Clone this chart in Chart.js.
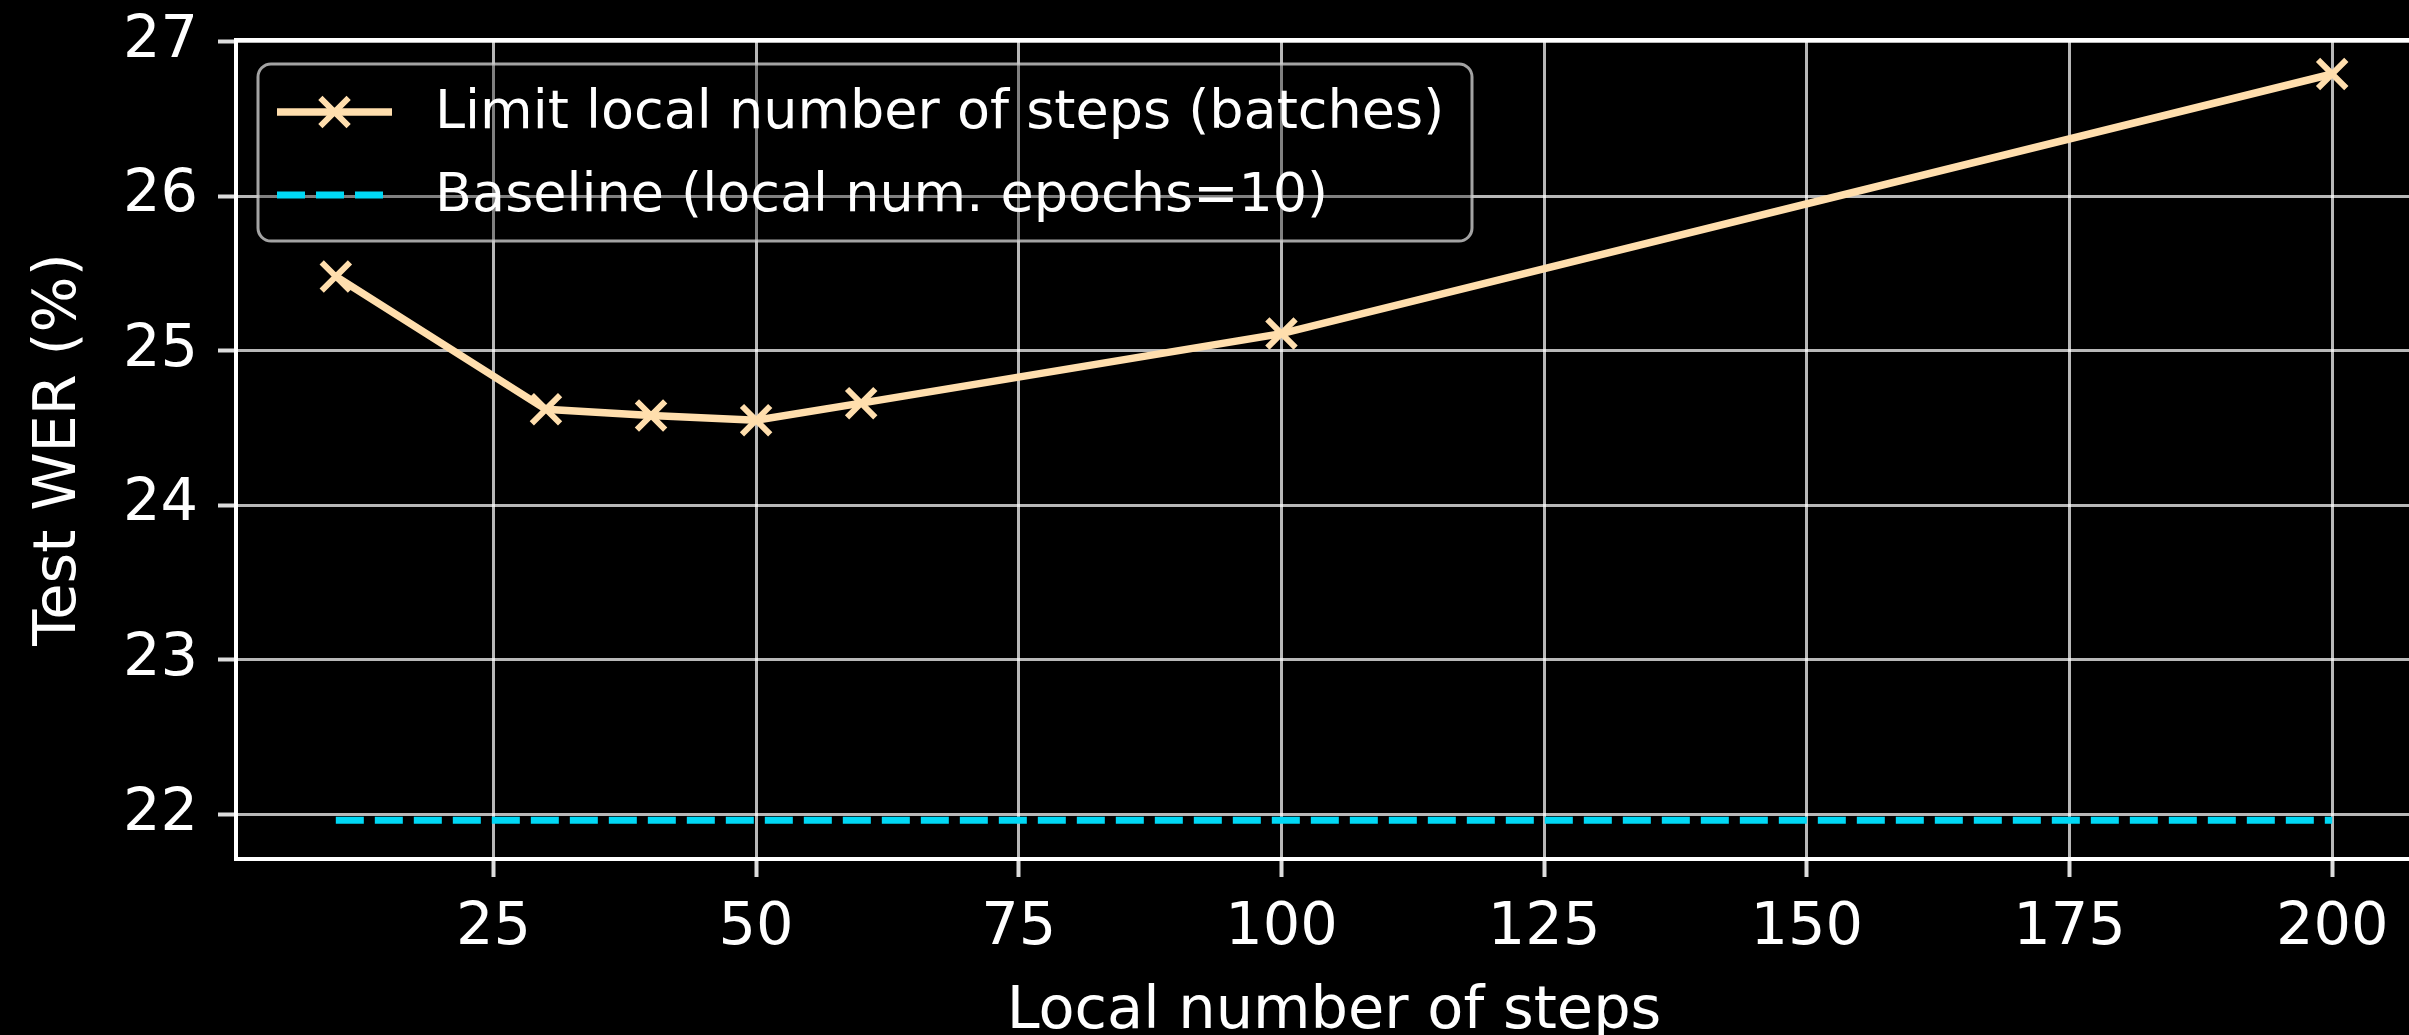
<!DOCTYPE html>
<html>
<head>
<meta charset="utf-8">
<script src="https://cdn.jsdelivr.net/npm/chart.js@4.4.1/dist/chart.umd.min.js"></script>
<style>
  html, body { margin: 0; padding: 0; background: #000; overflow: hidden; }
  #wrap { position: relative; width: 2458px; height: 1035px; }
  #c { display: block; }
</style>
</head>
<body>
<div id="wrap"><canvas id="c" width="2458" height="1035"></canvas></div>
<script>
// Test WER against the local number of steps, with the 10-epoch baseline
const steps = [10, 30, 40, 50, 60, 100, 200];
const testWER = [25.48, 24.62, 24.58, 24.55, 24.66, 25.11, 26.79];
const baselineSteps = [10, 200];
const baselineWER = 21.96;
const xTicks = [25, 50, 75, 100, 125, 150, 175, 200];
const yTicks = [22, 23, 24, 25, 26, 27];
const seriesLabels = ['Limit local number of steps (batches)', 'Baseline (local num. epochs=10)'];
const axisTitles = { x: 'Local number of steps', y: 'Test WER (%)' };

const FONT = "'DejaVu Sans', 'Liberation Sans', sans-serif";
const STEP_COLOR = '#ffdead';
const BASE_COLOR = '#00d8f5';
const GRID_COLOR = 'rgba(255,255,255,0.72)';

Chart.defaults.font.family = FONT;

// Box-style legend in the upper left, plus the top/right frame lines
const legendBox = { left: 258, top: 64, right: 1472, bottom: 241, radius: 13,
                    rows: [112, 195], handleFrom: 277, handleTo: 392, textX: 435, fontSize: 54 };

function drawX(ctx, x, y, r, w, color) {
  const d = r * Math.SQRT1_2;
  ctx.save();
  ctx.strokeStyle = color;
  ctx.lineWidth = w;
  ctx.setLineDash([]);
  ctx.beginPath();
  ctx.moveTo(x - d, y - d); ctx.lineTo(x + d, y + d);
  ctx.moveTo(x - d, y + d); ctx.lineTo(x + d, y - d);
  ctx.stroke();
  ctx.restore();
}

const framePlugin = {
  id: 'frameAndLegend',
  afterDatasetsDraw(chart) {
    const { ctx, chartArea: a } = chart;
    ctx.save();
    ctx.strokeStyle = '#ffffff';
    ctx.lineWidth = 4;
    ctx.beginPath();
    ctx.moveTo(a.left - 2, a.top);
    ctx.lineTo(a.right, a.top);
    ctx.lineTo(a.right, a.bottom);
    ctx.stroke();
    ctx.restore();
  },
  afterDraw(chart) {
    const { ctx } = chart;
    const L = legendBox;
    ctx.save();
    ctx.beginPath();
    ctx.roundRect(L.left, L.top, L.right - L.left, L.bottom - L.top, L.radius);
    ctx.fillStyle = 'rgba(0,0,0,0.3)';
    ctx.fill();
    ctx.strokeStyle = 'rgba(204,204,204,0.8)';
    ctx.lineWidth = 3;
    ctx.stroke();

    chart.data.datasets.forEach((ds, i) => {
      const y = L.rows[i];
      ctx.save();
      ctx.strokeStyle = ds.borderColor;
      ctx.lineWidth = ds.borderWidth;
      ctx.lineCap = 'butt';
      ctx.setLineDash(ds.borderDash || []);
      ctx.beginPath();
      ctx.moveTo(L.handleFrom, y);
      ctx.lineTo(L.handleTo, y);
      ctx.stroke();
      ctx.restore();
      if (ds.pointRadius > 0) {
        drawX(ctx, (L.handleFrom + L.handleTo) / 2, y, ds.pointRadius, ds.pointBorderWidth, ds.pointBorderColor);
      }
      ctx.fillStyle = '#ffffff';
      ctx.font = L.fontSize + 'px ' + FONT;
      ctx.textBaseline = 'middle';
      ctx.textAlign = 'left';
      ctx.fillText(ds.label, L.textX, y + 2);
    });
    ctx.restore();
  }
};

new Chart(document.getElementById('c'), {
  type: 'line',
  data: {
    datasets: [
      {
        label: seriesLabels[0],
        data: steps.map((x, i) => ({ x, y: testWER[i] })),
        borderColor: STEP_COLOR,
        backgroundColor: STEP_COLOR,
        borderWidth: 7.5,
        tension: 0,
        pointStyle: 'crossRot',
        pointRadius: 20,
        pointBorderWidth: 6,
        pointBorderColor: STEP_COLOR,
        pointBackgroundColor: STEP_COLOR,
        clip: false
      },
      {
        label: seriesLabels[1],
        data: baselineSteps.map(x => ({ x, y: baselineWER })),
        borderColor: BASE_COLOR,
        backgroundColor: BASE_COLOR,
        borderWidth: 7,
        borderDash: [28, 11],
        borderCapStyle: 'butt',
        pointRadius: 0,
        tension: 0
      }
    ]
  },
  options: {
    responsive: false,
    devicePixelRatio: 1,
    animation: false,
    events: [],
    layout: { padding: { top: 40, right: 6, left: 0, bottom: 0 } },
    plugins: { legend: { display: false }, tooltip: { enabled: false } },
    scales: {
      x: {
        type: 'linear',
        min: 0.5,
        max: 209.5,
        afterFit(s) { s.height = 176; },
        afterBuildTicks(s) { s.ticks = xTicks.map(v => ({ value: v })); },
        grid: { color: GRID_COLOR, lineWidth: 3, tickLength: 18, tickColor: '#dddddd', tickWidth: 4 },
        border: { display: true, color: '#ffffff', width: 4 },
        ticks: { color: '#ffffff', font: { size: 59, lineHeight: 1.2 }, padding: 16, maxRotation: 0, autoSkip: false },
        title: { display: true, text: axisTitles.x, color: '#ffffff', font: { size: 59, lineHeight: 0.8 }, padding: { top: 0, bottom: -1 } }
      },
      y: {
        type: 'linear',
        min: 21.71,
        max: 27.01,
        afterFit(s) { s.width = 236; },
        afterBuildTicks(s) { s.ticks = yTicks.map(v => ({ value: v })); },
        grid: { color: GRID_COLOR, lineWidth: 3, tickLength: 18, tickColor: '#dddddd', tickWidth: 4 },
        border: { display: true, color: '#ffffff', width: 4 },
        ticks: { color: '#ffffff', font: { size: 59, lineHeight: 0.3 }, padding: 20, autoSkip: false },
        title: { display: true, text: axisTitles.y, color: '#ffffff', font: { size: 59, lineHeight: 1 }, padding: { top: 30, bottom: 0 } }
      }
    }
  },
  plugins: [framePlugin]
});
</script>
</body>
</html>
